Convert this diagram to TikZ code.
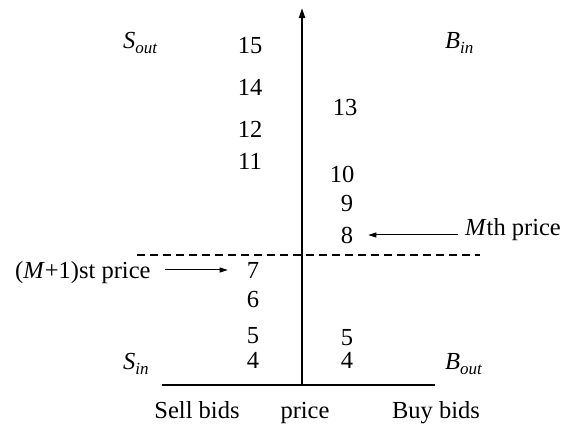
\documentclass[tikz,border=0pt]{standalone}
\usepackage{fontspec}
\setmainfont{Liberation Serif}
\usetikzlibrary{arrows.meta}
\tikzset{
  lbl/.style={inner sep=0pt, font=\fontsize{24.5}{28}\selectfont},
  thinarrow/.style={line width=1pt, -{Triangle[length=8pt,width=5pt]}},
  axisline/.style={line width=1.8pt},
  baseline/.style={line width=2pt},
  divider/.style={line width=1.2pt, dash pattern=on 8pt off 5pt},
}
\newcommand{\subtxt}[1]{\raisebox{-5.5pt}{\fontsize{17}{17}\selectfont\itshape #1}}
\begin{document}
\begin{tikzpicture}[x=1pt,y=-1pt]
\useasboundingbox (0,0) rectangle (565,424);
% axes
\coordinate (axb) at (302,385);
\coordinate (axt) at (302,8);
\coordinate (bl) at (162,385);
\coordinate (br) at (435,385);
\coordinate (dl) at (137,255);
\coordinate (dr) at (480,255);
\draw[axisline, -{Triangle[length=10pt,width=6pt]}] (axb) -- (axt);
\draw[baseline] (bl) -- (br);
\draw[divider] (dl) -- (dr);
% corner labels
\node[lbl, anchor=base west] (sout) at (123,48) {\textit{S}\subtxt{out}};
\node[lbl, anchor=base west] (bin) at (445,48) {\textit{B}\subtxt{in}};
\node[lbl, anchor=base west] (sin) at (123,369) {\textit{S}\subtxt{in}};
\node[lbl, anchor=base west] (bout) at (445,369) {\textit{B}\subtxt{out}};
% sell side numbers
\node[lbl, anchor=base] (s15) at (250,53) {15};
\node[lbl, anchor=base] (s14) at (250,95) {14};
\node[lbl, anchor=base] (s12) at (250,137) {12};
\node[lbl, anchor=base] (s11) at (250,169) {11};
\node[lbl, anchor=base] (s7) at (253,278) {7};
\node[lbl, anchor=base] (s6) at (253,307) {6};
\node[lbl, anchor=base] (s5) at (253,343) {5};
\node[lbl, anchor=base] (s4) at (253,368) {4};
% buy side numbers
\node[lbl, anchor=base] (b13) at (345,115) {13};
\node[lbl, anchor=base] (b10) at (342,182) {10};
\node[lbl, anchor=base] (b9) at (347,211) {9};
\node[lbl, anchor=base] (b8) at (347,243) {8};
\node[lbl, anchor=base] (b5) at (347,345) {5};
\node[lbl, anchor=base] (b4) at (347,368) {4};
% price annotations
\node[lbl, anchor=base west] (mth) at (465,235) {\textit{M}th price};
\node[lbl, anchor=base west] (m1) at (15,278) {(\textit{M}+1)st price};
\draw[thinarrow, shorten <=7pt, shorten >=15pt] (mth.west |- b8.east) -- (b8.east);
\draw[thinarrow, shorten <=14pt, shorten >=19pt] (m1.east |- s7.west) -- (s7.west);
% bottom labels
\node[lbl, anchor=base] (sell) at (197,418) {Sell bids};
\node[lbl, anchor=base] (price) at (305,418) {price};
\node[lbl, anchor=base] (buy) at (436,418) {Buy bids};
\end{tikzpicture}
\end{document}
